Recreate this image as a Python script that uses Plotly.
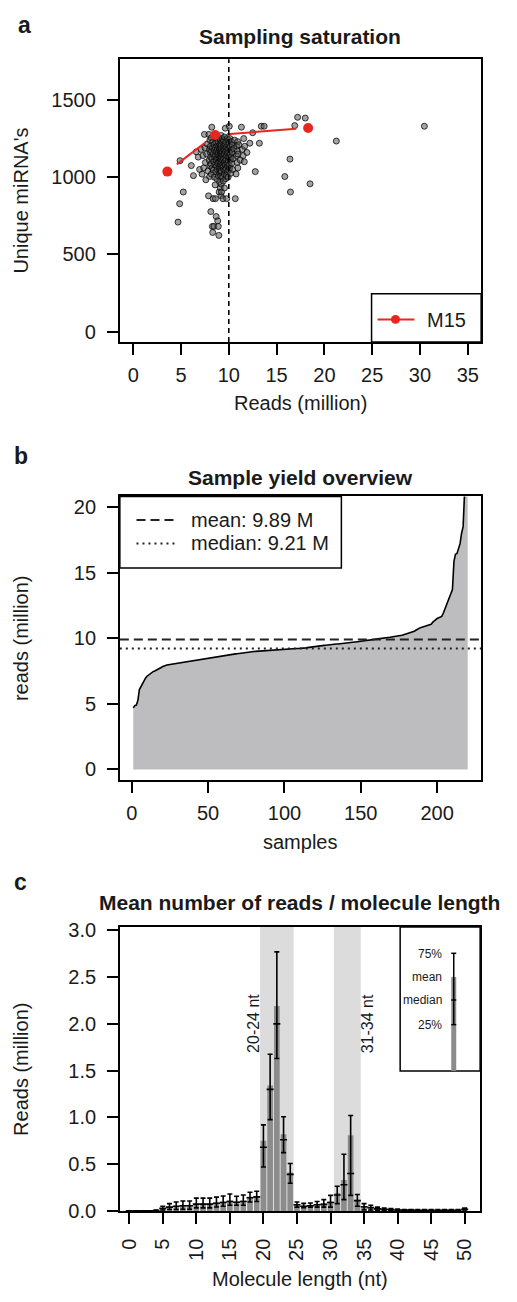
import plotly.graph_objects as go

W, H = 517, 1302
FONT = "Liberation Sans, Arial, sans-serif"

# ---------------- Panel a / b data (one value per sample, sorted by reads) ----------------
reads_million = [
    4.69, 4.86, 4.90, 5.24, 6.08, 6.3, 6.6, 6.8, 6.95, 7.1,
    7.2, 7.3, 7.38, 7.45, 7.5, 7.55, 7.6, 7.68, 7.75, 7.82,
    7.88, 7.92, 7.95, 7.98, 8.0, 8.02, 8.04, 8.06, 8.08, 8.1,
    8.12, 8.14, 8.16, 8.18, 8.2, 8.22, 8.24, 8.26, 8.28, 8.3,
    8.32, 8.34, 8.36, 8.38, 8.4, 8.42, 8.44, 8.46, 8.48, 8.5,
    8.52, 8.54, 8.55, 8.57, 8.59, 8.6, 8.62, 8.64, 8.65, 8.67,
    8.68, 8.7, 8.72, 8.73, 8.75, 8.77, 8.78, 8.8, 8.81, 8.83,
    8.84, 8.86, 8.87, 8.89, 8.9, 8.92, 8.93, 8.95, 8.96, 8.98,
    8.99, 9.0, 9.01, 9.02, 9.03, 9.04, 9.05, 9.06, 9.07, 9.08,
    9.09, 9.1, 9.11, 9.12, 9.13, 9.14, 9.15, 9.16, 9.17, 9.18,
    9.18, 9.19, 9.19, 9.2, 9.2, 9.2, 9.21, 9.21, 9.21, 9.21,
    9.22, 9.23, 9.24, 9.26, 9.28, 9.3, 9.32, 9.34, 9.36, 9.38,
    9.39, 9.40, 9.41, 9.42, 9.43, 9.45, 9.46, 9.48, 9.49, 9.51,
    9.52, 9.53, 9.54, 9.55, 9.56, 9.57, 9.58, 9.59, 9.6, 9.62,
    9.63, 9.64, 9.65, 9.67, 9.68, 9.7, 9.72, 9.73, 9.75, 9.77,
    9.78, 9.8, 9.82, 9.83, 9.85, 9.86, 9.88, 9.9, 9.91, 9.93,
    9.94, 9.96, 9.97, 9.99, 10.0, 10.02, 10.04, 10.05, 10.07, 10.09,
    10.1, 10.12, 10.14, 10.16, 10.18, 10.2, 10.22, 10.25, 10.28, 10.31,
    10.34, 10.37, 10.41, 10.45, 10.52, 10.6, 10.68, 10.76, 10.8, 10.84,
    10.87, 10.9, 10.93, 10.95, 10.97, 11.05, 11.2, 11.32, 11.42, 11.5,
    11.56, 11.62, 11.66, 11.9, 12.2, 12.5, 12.77, 13.2, 13.4, 13.7,
    15.86, 16.4, 16.45, 16.9, 17.2, 18.0, 18.5, 21.25, 30.46, 38.0,
]
unique_mirnas = [
    709, 828, 1107, 904, 1075, 1010, 1164, 1130, 1050, 1180,
    1020, 1140, 1060, 1277, 1190, 1095, 983, 1150, 1215, 1040,
    879, 1277, 1110, 1180, 1005, 1240, 1075, 1160, 1200, 1130,
    777, 1085, 1255, 1020, 1170, 1324, 1120, 1060, 681, 1190,
    642, 1230, 861, 1150, 1045, 1100, 681, 1210, 1000, 1175,
    1130, 1260, 1080, 950, 1190, 861, 1140, 1035, 1225, 1110,
    745, 1165, 1070, 1250, 990, 1200, 1125, 1050, 1180, 1090,
    717, 1145, 1230, 1010, 681, 1160, 1095, 1200, 623, 1120,
    904, 1060, 1175, 1250, 1030, 1140, 970, 1210, 1100, 1045,
    1185, 1120, 930, 1240, 1075, 1160, 1010, 1195, 1135, 1060,
    1220, 880, 1150, 1095, 1270, 1030, 1170, 955, 1115, 1205,
    1040, 1185, 904, 1130, 1250, 1075, 1160, 1000, 1110, 1225,
    861, 1145, 1065, 1190, 975, 1120, 1240, 1050, 1175, 1090,
    1205, 1020, 1150, 930, 1260, 1100, 1180, 1045, 1125, 1215,
    1317, 1080, 1165, 990, 1230, 1110, 1055, 1195, 1140, 1010,
    861, 1175, 1090, 1250, 1035, 1155, 1210, 1070, 1130, 1000,
    1185, 1105, 1240, 1045, 1160, 1220, 1080, 1330, 1130, 1195,
    1060, 1250, 1150, 1110, 1200, 1025, 1175, 1130, 1230, 1090,
    1160, 1210, 1050, 1120, 1185, 1240, 861, 1021, 1140, 1200,
    1095, 1170, 1230, 1060, 1150, 1210, 1110, 1324, 1180, 1140,
    1250, 1100, 1200, 1160, 1220, 1288, 1036, 1220, 1330, 1330,
    1004, 1117, 904, 1334, 1388, 1383, 957, 1234, 1330, 1300,
]
samples = list(range(1, len(reads_million) + 1))

m15_reads = [3.57, 8.57, 18.3]
m15_mirnas = [1036, 1273, 1319]
saturation_cutoff = 10

mean_reads = 9.89
median_reads = 9.21

# ---------------- Panel c data ----------------
lengths = list(range(51))
len_mean = [0, 0, 0, 0, 0.005, 0.03, 0.045, 0.055, 0.06, 0.06,
            0.08, 0.08, 0.08, 0.09, 0.10, 0.11, 0.10, 0.11, 0.15, 0.16,
            0.75, 1.34, 2.19, 0.82, 0.41, 0.07, 0.055, 0.06, 0.07, 0.08,
            0.10, 0.19, 0.33, 0.81, 0.12, 0.05, 0.04, 0.025, 0.02, 0.015,
            0.012, 0.01, 0.01, 0.008, 0.008, 0.007, 0.007, 0.006, 0.006, 0.006,
            0.02]
len_q25 = [0, 0, 0, 0, 0.002, 0.01, 0.015, 0.015, 0.018, 0.018,
           0.032, 0.032, 0.032, 0.042, 0.05, 0.06, 0.06, 0.06, 0.095, 0.10,
           0.47, 0.976, 1.63, 0.623, 0.296, 0.04, 0.035, 0.04, 0.04, 0.04,
           0.04, 0.078, 0.12, 0.166, 0.05, 0.01, 0.01, 0.008, 0.006, 0.005,
           0.004, 0.003, 0.003, 0.003, 0.003, 0.003, 0.003, 0.003, 0.003, 0.003,
           0.01]
len_q75 = [0, 0, 0, 0, 0.008, 0.05, 0.078, 0.095, 0.105, 0.105,
           0.137, 0.137, 0.137, 0.147, 0.16, 0.18, 0.157, 0.17, 0.20, 0.21,
           0.92, 1.675, 2.77, 1.007, 0.507, 0.095, 0.08, 0.085, 0.10, 0.12,
           0.166, 0.264, 0.606, 1.02, 0.176, 0.078, 0.06, 0.04, 0.03, 0.025,
           0.02, 0.015, 0.015, 0.015, 0.014, 0.014, 0.013, 0.013, 0.013, 0.013,
           0.03]
len_median = [0, 0, 0, 0, 0.004, 0.027, 0.04, 0.05, 0.055, 0.055,
              0.072, 0.072, 0.072, 0.082, 0.09, 0.10, 0.092, 0.10, 0.14, 0.15,
              0.68, 1.30, 2.0, 0.76, 0.39, 0.065, 0.05, 0.055, 0.065, 0.07,
              0.09, 0.17, 0.28, 0.40, 0.11, 0.045, 0.035, 0.022, 0.018, 0.013,
              0.01, 0.008, 0.008, 0.007, 0.007, 0.006, 0.006, 0.005, 0.005, 0.005,
              0.018]
mirna_band = (19.5, 24.5)
pirna_band = (30.5, 34.5)

# ---------------- layout geometry (pixels) ----------------
def PX(x):
    return x / W

def PY(y):
    return 1 - y / H

A_BOX = (118, 52, 481, 339)
B_BOX = (118.3, 495.7, 481, 783.3)
C_BOX = (118.3, 932.7, 480, 1220.7)
A_XR, A_YR = [-1.43, 36.4], [-68, 1764]
B_XR, B_YR = [-7.8, 228.8], [-0.8, 20.8]
C_XR, C_YR = [-1.4, 52.3], [0, 3.035]

fig = go.Figure()

# Panel a scatter
fig.add_trace(go.Scatter(
    x=reads_million, y=unique_mirnas, mode="markers", xaxis="x", yaxis="y",
    marker=dict(size=6, color="rgba(90,90,90,0.55)",
                line=dict(color="rgba(0,0,0,0.75)", width=1)),
    showlegend=False, hoverinfo="skip"))

# M15 line with gaps (R type="b")
pxx = (A_BOX[2] - A_BOX[0]) / (A_XR[1] - A_XR[0])
pxy = (A_BOX[3] - A_BOX[1]) / (A_YR[1] - A_YR[0])
gap = 12.0
sx, sy = [], []
for i in range(len(m15_reads) - 1):
    x0, y0 = m15_reads[i], m15_mirnas[i]
    x1, y1 = m15_reads[i + 1], m15_mirnas[i + 1]
    dx, dy = (x1 - x0) * pxx, (y1 - y0) * pxy
    L = (dx * dx + dy * dy) ** 0.5
    f = gap / L
    sx += [x0 + (x1 - x0) * f, x1 - (x1 - x0) * f, None]
    sy += [y0 + (y1 - y0) * f, y1 - (y1 - y0) * f, None]
fig.add_trace(go.Scatter(x=sx, y=sy, mode="lines", xaxis="x", yaxis="y",
                         line=dict(color="#e8261f", width=2),
                         showlegend=False, hoverinfo="skip"))
fig.add_trace(go.Scatter(x=m15_reads, y=m15_mirnas, mode="markers", xaxis="x", yaxis="y",
                         marker=dict(size=10, color="#e8261f"),
                         showlegend=False, hoverinfo="skip"))

# Panel b area
fig.add_trace(go.Scatter(x=samples, y=reads_million, mode="lines", fill="tozeroy",
                         fillcolor="#bdbdc0", line=dict(color="black", width=1.6),
                         xaxis="x2", yaxis="y2", showlegend=False, hoverinfo="skip"))

# Panel c bars
fig.add_trace(go.Bar(
    x=lengths, y=len_mean, xaxis="x3", yaxis="y3",
    marker=dict(color="#8c8c8c", line=dict(width=0)),
    error_y=dict(type="data", symmetric=False,
                 array=[q - m for q, m in zip(len_q75, len_mean)],
                 arrayminus=[m - q for q, m in zip(len_q25, len_mean)],
                 color="black", thickness=1.6, width=2.5),
    showlegend=False, hoverinfo="skip"))
fig.add_trace(go.Scatter(x=lengths, y=len_median, mode="markers", xaxis="x3", yaxis="y3",
                         marker=dict(symbol="line-ew", size=5,
                                     line=dict(color="black", width=1.6)),
                         showlegend=False, hoverinfo="skip"))

def axis(dom, rng, tickvals, ticktext=None, anchor=None, tickangle=None, standoff=7):
    d = dict(domain=dom, range=rng, tickmode="array", tickvals=tickvals,
             showline=True, mirror=True, linecolor="black", linewidth=1.5,
             ticks="outside", ticklen=11, tickwidth=1.5, tickcolor="black",
             ticklabelstandoff=standoff,
             showgrid=False, zeroline=False, anchor=anchor,
             tickfont=dict(family=FONT, size=20, color="#1a1a1a"))
    if ticktext is not None:
        d["ticktext"] = ticktext
    if tickangle is not None:
        d["tickangle"] = tickangle
    return d

def xdom(b):
    return [PX(b[0]), PX(b[2])]

def ydom(b):
    return [PY(b[3]), PY(b[1])]

fig.update_layout(
    width=W, height=H, margin=dict(l=0, r=0, t=0, b=0),
    paper_bgcolor="white", plot_bgcolor="white", bargap=0.15,
    xaxis=axis(xdom(A_BOX), A_XR, list(range(0, 40, 5)), anchor="y", standoff=3),
    yaxis=axis(ydom(A_BOX), A_YR, [0, 500, 1000, 1500], anchor="x"),
    xaxis2=axis(xdom(B_BOX), B_XR, [0, 50, 100, 150, 200], anchor="y2", standoff=3),
    yaxis2=axis(ydom(B_BOX), B_YR, [0, 5, 10, 15, 20], anchor="x2"),
    xaxis3=axis(xdom(C_BOX), C_XR, list(range(0, 55, 5)), anchor="y3", tickangle=-90),
    yaxis3=axis(ydom(C_BOX), C_YR, [0, 0.5, 1, 1.5, 2, 2.5, 3],
                ["0.0", "0.5", "1.0", "1.5", "2.0", "2.5", "3.0"], anchor="x3"),
)

shapes = []
# panel a cutoff line
shapes.append(dict(type="line", xref="x", yref="y domain", x0=saturation_cutoff, x1=saturation_cutoff,
                   y0=0, y1=1, line=dict(color="black", width=1.6, dash="5px,4px")))
# panel a legend
shapes.append(dict(type="rect", xref="paper", yref="paper", x0=PX(371), x1=PX(481), y0=PY(339), y1=PY(290),
                   fillcolor="white", line=dict(color="black", width=1.5), layer="above"))
shapes.append(dict(type="line", xref="paper", yref="paper", x0=PX(377), x1=PX(414), y0=PY(316), y1=PY(316),
                   line=dict(color="#e8261f", width=2), layer="above"))
shapes.append(dict(type="circle", xref="paper", yref="paper", x0=PX(390.5), x1=PX(399.5), y0=PY(320.5), y1=PY(311.5),
                   fillcolor="#e8261f", line=dict(width=0), layer="above"))
# panel b mean / median lines
shapes.append(dict(type="line", xref="x2 domain", yref="y2", x0=0, x1=1, y0=mean_reads, y1=mean_reads,
                   line=dict(color="#222", width=2, dash="9px,5px")))
shapes.append(dict(type="line", xref="x2 domain", yref="y2", x0=0, x1=1, y0=median_reads, y1=median_reads,
                   line=dict(color="#222", width=2, dash="2px,4px")))
# panel b legend
shapes.append(dict(type="rect", xref="paper", yref="paper", x0=PX(118.3), x1=PX(340.7), y0=PY(568.3), y1=PY(495.7),
                   fillcolor="white", line=dict(color="black", width=1.5), layer="above"))
shapes.append(dict(type="line", xref="paper", yref="paper", x0=PX(135), x1=PX(174), y0=PY(519.5), y1=PY(519.5),
                   line=dict(color="#222", width=2, dash="9px,5px"), layer="above"))
shapes.append(dict(type="line", xref="paper", yref="paper", x0=PX(135), x1=PX(174), y0=PY(543.5), y1=PY(543.5),
                   line=dict(color="#222", width=2, dash="2px,4px"), layer="above"))
# panel c shaded bands
for band in (mirna_band, pirna_band):
    shapes.append(dict(type="rect", xref="x3", yref="y3 domain", x0=band[0], x1=band[1], y0=0, y1=1,
                       fillcolor="#dcdcdc", line=dict(width=0), layer="below"))
# panel c inset legend
shapes.append(dict(type="rect", xref="paper", yref="paper", x0=PX(399.7), x1=PX(480), y0=PY(1078.7), y1=PY(932.7),
                   fillcolor="white", line=dict(color="black", width=1.5), layer="above"))
shapes.append(dict(type="rect", xref="paper", yref="paper", x0=PX(451), x1=PX(456), y0=PY(1078.7), y1=PY(983.3),
                   fillcolor="#8c8c8c", line=dict(width=0), layer="above"))
shapes.append(dict(type="line", xref="paper", yref="paper", x0=PX(453.5), x1=PX(453.5), y0=PY(1031.7), y1=PY(959.3),
                   line=dict(color="black", width=1.5), layer="above"))
for yy in (959.3, 1006.7, 1031.7):
    shapes.append(dict(type="line", xref="paper", yref="paper", x0=PX(451), x1=PX(456), y0=PY(yy), y1=PY(yy),
                       line=dict(color="black", width=1.5), layer="above"))
fig.update_layout(shapes=shapes)

ann = []
def text(t, x, y, size=20, bold=False, angle=0, xanchor="center", yanchor="middle", xref="paper", yref="paper"):
    if xref == "paper":
        x = PX(x)
    if yref == "paper":
        y = PY(y)
    ann.append(dict(text=f"<b>{t}</b>" if bold else t, x=x, y=y, xref=xref, yref=yref,
                    showarrow=False, textangle=angle, xanchor=xanchor, yanchor=yanchor,
                    font=dict(family=FONT, size=size, color="#1a1a1a")))

text("a", 22.5, 17, size=23, bold=True)
text("b", 19, 455, size=23, bold=True)
text("c", 18.5, 887, size=23, bold=True)
text("Sampling saturation", 299.5, 29, size=21, bold=True)
text("Sample yield overview", 299.5, 476, size=21, bold=True)
text("Mean number of reads / molecule length", 299, 908, size=21, bold=True)
text("Unique miRNA's", 19, 195.5, angle=-90)
text("Reads (million)", 299.5, 401)
text("reads (million)", 19, 639.5, angle=-90)
text("samples", 299.5, 846)
text("Reads (million)", 19, 1076.7, angle=-90)
text("Molecule length (nt)", 299, 1290)
text("M15", 425, 316.5, xanchor="left")
text(f"mean: {mean_reads:.2f} M", 188, 520, xanchor="left")
text(f"median: {median_reads:.2f} M", 188, 542.5, xanchor="left")
text("20-24 nt", 18.6, 2.0, size=16, angle=-90, xref="x3", yref="y3")
text("31-34 nt", 35.5, 2.0, size=16, angle=-90, xref="x3", yref="y3")
for lab, yy in (("75%", 960), ("mean", 983), ("median", 1007), ("25%", 1032)):
    text(lab, 444, yy, size=12, xanchor="right")
fig.update_layout(annotations=ann)

fig.write_html(
    "out.html",
    config={"displayModeBar": False},
    post_script="document.body.style.margin='0';document.body.style.padding='0';"
                "document.documentElement.style.overflow='hidden';",
)
